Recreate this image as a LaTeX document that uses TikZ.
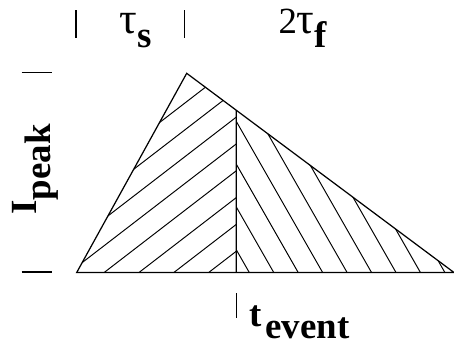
\documentclass[tikz,border=0pt]{standalone}
\usepackage{fontspec}
\setmainfont{Liberation Serif}
\usetikzlibrary{calc}
\newcommand{\lowsub}[1]{\raisebox{-0.4em}{#1}}
\newcommand{\bigtau}{{\fontsize{25}{28}\selectfont τ}}

\begin{document}
\begin{tikzpicture}[x=0.02cm, y=-0.02cm, line width=0.6pt, font=\fontsize{21}{25}\selectfont]

% ------------------- 样式 -------------------
\tikzstyle{tick} = [line width=0.6pt]
\tikzstyle{hatch} = [line width=0.55pt]
\tikzstyle{outline} = [line width=0.7pt, line join=miter]
\tikzstyle{label} = [inner sep=0pt, anchor=base west]

\useasboundingbox (0,0) rectangle (454,346);

% ------------------- 三角形角点 -------------------
\coordinate (left) at (76.7,272.5);
\coordinate (apex) at (186.7,73.3);
\coordinate (right) at (454,272.5);
\coordinate (foot) at (236.3,272.5);
\coordinate (top) at ($(apex)!{(236.3-186.7)/(454-186.7)}!(right)$);

% ------------------- 左侧阴影 (上升段) -------------------
\begin{scope}
  \clip (left) -- (apex) -- (top) -- (foot) -- cycle;
  \foreach \k in {0,...,7}
    \draw[hatch] ({-35.2+34.84*\k},272.5) -- ++(300,-231);
\end{scope}

% ------------------- 右侧阴影 (下降段) -------------------
\begin{scope}
  \clip (top) -- (right) -- (foot) -- cycle;
  \foreach \k in {0,...,8}
    \draw[hatch] ({249.3+24.45*\k},272.5) -- ++(-120,-210);
\end{scope}

% 外框与分界线
\draw[outline] (left) -- (apex) -- (right) -- cycle;
\draw[outline] (top) -- (foot);

% ------------------- 刻度 -------------------
\draw[tick] (76,10) -- (76,38);
\draw[tick] (184.3,10) -- (184.3,38);
\draw[tick] (21.7,72.7) -- (51.7,72.7);
\draw[tick] (21.7,272) -- (51.7,272);
\draw[tick] (236.3,293) -- (236.3,318);

% ------------------- 标签 -------------------
\node[label] (tauS) at (119,33) {\bigtau\lowsub{\bfseries s}};
\node[label] (tauF) at (278,33) {2\bigtau\lowsub{\bfseries f}};
\node[label, rotate=90] (Ipeak) at (36,215) {\bfseries I\lowsub{peak}};
\node[label] (tEvent) at (249,326) {\bfseries t\kern0.1em\raisebox{-0.33em}{event}};

\end{tikzpicture}
\end{document}
